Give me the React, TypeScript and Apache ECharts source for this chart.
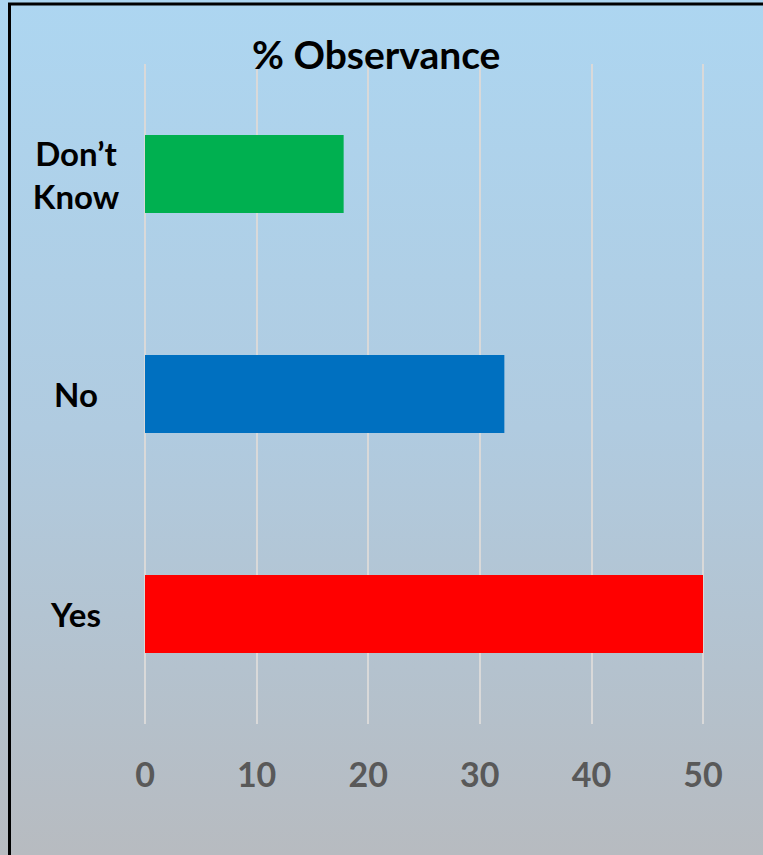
import React, { useEffect, useRef } from "react";
import * as echarts from "echarts";

const categories = ["Yes", "No", "Don’t\nKnow"];
const values = [50, 32.2, 17.8];
const barColors = ["#FF0000", "#0070C0", "#00B050"];
const xTicks = { min: 0, max: 50, interval: 10 };
const titleText = "% Observance";

export default function App() {
  const ref = useRef<HTMLDivElement>(null);
  useEffect(() => {
    if (!ref.current) return;
    const chart = echarts.init(ref.current, null, { renderer: "svg" });
    chart.setOption({
      animation: false,
      backgroundColor: new echarts.graphic.LinearGradient(0, 0, 0, 1, [
        { offset: 0, color: "#ADD6F1" },
        { offset: 0.5, color: "#B0CBE0" },
        { offset: 1, color: "#B7BBC0" },
      ]),
      title: {
        text: titleText,
        left: 252,
        top: 34,
        padding: 0,
        textStyle: {
          fontFamily: "Lato",
          fontWeight: "bold",
          fontSize: 39,
          color: "#000000",
        },
      },
      graphic: [
        {
          type: "rect",
          shape: { x: 9.5, y: 4, width: 900, height: 1000 },
          style: { fill: "none", stroke: "#000000", lineWidth: 3 },
          silent: true,
        },
      ],
      grid: { left: 145, right: 60, top: 64, bottom: 131, containLabel: false },
      xAxis: {
        type: "value",
        min: xTicks.min,
        max: xTicks.max,
        interval: xTicks.interval,
        axisLine: { show: false },
        axisTick: { show: false },
        splitLine: { show: true, lineStyle: { color: "#D9D9D9", width: 2 } },
        axisLabel: {
          margin: 32,
          fontFamily: "Lato",
          fontWeight: "bold",
          fontSize: 34,
          color: "#595959",
        },
      },
      yAxis: {
        type: "category",
        data: categories,
        axisLine: { show: false },
        axisTick: { show: false },
        axisLabel: {
          margin: 69,
          align: "center",
          fontFamily: "Lato",
          fontWeight: "bold",
          fontSize: 33,
          lineHeight: 43,
          color: "#000000",
        },
      },
      series: [
        {
          type: "bar",
          barWidth: 78,
          data: values.map((v, i) => ({ value: v, itemStyle: { color: barColors[i] } })),
        },
      ],
    });
    return () => chart.dispose();
  }, []);
  return (
    <div
      ref={ref}
      style={{ position: "fixed", left: 0, top: 0, width: 763, height: 855 }}
    />
  );
}
